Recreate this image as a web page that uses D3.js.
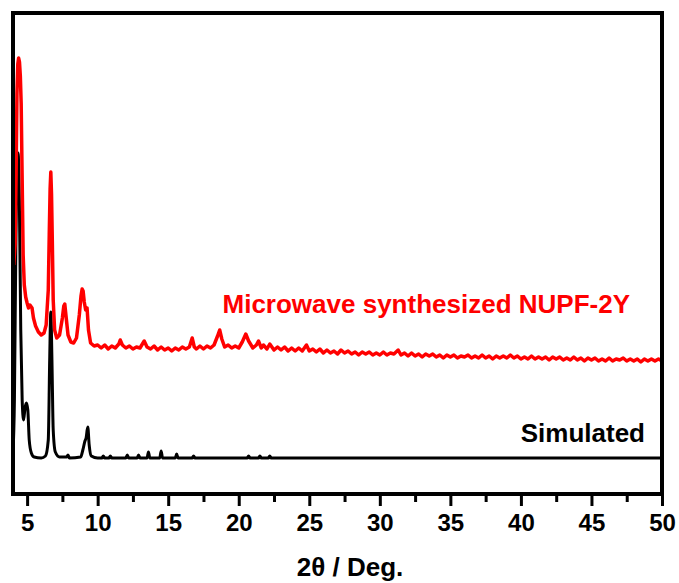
<!DOCTYPE html>
<html>
<head>
<meta charset="utf-8">
<script src="https://cdn.jsdelivr.net/npm/d3@7"></script>
<style>
  body { margin: 0; background: #fff; }
  svg { display: block; }
  text { font-family: "Liberation Sans", Arial, sans-serif; font-weight: bold; }
</style>
</head>
<body>
<svg id="xrd" width="679" height="583"></svg>
<script>
// 2theta (deg) and intensity (a.u.)
let simTheta = [4.0, 4.1, 4.2, 4.3, 4.36, 4.45, 4.55, 4.65, 4.75, 4.85, 4.95, 5.05, 5.15, 5.3, 5.5, 6.0, 6.3, 6.5, 6.6, 6.68, 6.76, 6.85, 7.0, 7.3, 7.8, 7.9, 8.0, 8.8, 8.95, 9.1, 9.18, 9.3, 9.4, 9.55, 10.0, 10.3, 10.4, 10.5, 10.8, 10.9, 11.0, 12.0, 12.1, 12.2, 12.8, 12.9, 13.0, 13.5, 13.6, 13.7, 14.4, 14.5, 14.6, 15.5, 15.6, 15.7, 16.7, 16.8, 16.9, 20.6, 20.7, 20.8, 21.4, 21.5, 21.6, 22.1, 22.2, 22.3, 50.0]
let simInt = [42, 94, 244, 334, 341, 294, 164, 94, 74, 86, 91, 84, 54, 41, 37, 36, 38, 54, 134, 182, 134, 64, 42, 37, 37, 39, 36, 37, 44, 53, 56, 67, 49, 38, 36, 36, 38, 36, 36, 38, 36, 36, 39, 36, 36, 39, 36, 36, 42, 36, 36, 43, 36, 36, 40, 36, 36, 38, 36, 36, 38, 36, 36, 38, 36, 36, 38, 36, 36]

let mwTheta = [4.05, 4.15, 4.22, 4.28, 4.34, 4.4, 4.46, 4.52, 4.58, 4.65, 4.72, 4.8, 4.9, 5.0, 5.1, 5.2, 5.35, 5.45, 5.6, 5.8, 6.0, 6.2, 6.35, 6.5, 6.57, 6.63, 6.68, 6.73, 6.79, 6.85, 6.95, 7.1, 7.3, 7.5, 7.6, 7.67, 7.75, 7.9, 8.1, 8.3, 8.5, 8.7, 8.82, 8.9, 8.97, 9.05, 9.15, 9.25, 9.35,
    9.5, 9.75, 10.0, 10.25, 10.5, 10.75, 11.0, 11.25, 11.5, 11.6, 11.75, 12.0, 12.25, 12.5, 12.75, 13.0, 13.3, 13.5, 13.75, 14.0, 14.25, 14.5, 14.75, 15.0, 15.25, 15.5, 15.75, 16.0, 16.25, 16.5, 16.7, 16.85, 17.0, 17.25, 17.5, 17.75, 18.0, 18.25, 18.5, 18.65, 18.8, 19.0, 19.25, 19.5, 19.75, 20.0, 20.25, 20.5, 20.7, 21.0, 21.25, 21.4, 21.6, 21.75, 22.0, 22.2, 22.5, 22.75, 23.0, 23.25, 23.5, 23.75, 24.0, 24.25, 24.5, 24.8, 25.0, 25.25, 25.5, 25.75, 26.0, 26.25, 26.5, 26.75, 27.0, 27.25, 27.5, 27.75, 28.0, 28.25, 28.5, 28.75, 29.0, 29.25, 29.5, 29.75, 30.0, 30.25, 30.5, 30.75, 31.0, 31.3, 31.5, 31.75, 32.0, 32.25, 32.5, 32.75, 33.0, 33.25, 33.5, 33.75, 34.0, 34.25, 34.5, 34.75, 35.0, 35.25, 35.5, 35.75, 36.0, 36.25, 36.5, 36.75, 37.0, 37.25, 37.5, 37.75, 38.0, 38.25, 38.5, 38.75, 39.0, 39.25, 39.5, 39.75, 40.0, 40.25, 40.5, 40.75, 41.0, 41.25, 41.5, 41.75, 42.0, 42.25, 42.5, 42.75, 43.0, 43.25, 43.5, 43.75, 44.0, 44.25, 44.5, 44.75, 45.0, 45.25, 45.5, 45.75, 46.0, 46.25, 46.5, 46.75, 47.0, 47.25, 47.5, 47.75, 48.0, 48.25, 48.5, 48.75, 49.0, 49.25, 49.5, 49.75, 50.0]
let mwInt = [229, 250, 320, 400, 430, 436, 432, 418, 390, 314, 239, 209, 197, 191, 186, 189, 186, 176, 168, 162, 159, 161, 169, 204, 260, 305, 322, 300, 250, 194, 164, 156, 159, 176, 188, 190, 179, 159, 152, 151, 156, 179, 198, 205, 203, 192, 184, 186, 164,
    151, 148, 149, 146, 149, 145, 148, 146, 150, 154, 149, 146, 148, 145, 147, 146, 153, 147, 145, 148, 144, 147, 144, 146, 143, 146, 144, 147, 145, 147, 156, 147, 145, 148, 145, 148, 146, 149, 158, 164, 155, 147, 149, 146, 148, 146, 152, 160, 153, 146, 149, 153, 146, 149, 145, 150, 144, 147, 144, 147, 143, 146, 143, 146, 143, 149, 143, 145, 142, 145, 141, 144, 141, 143, 140, 144, 141, 143, 140, 142, 139, 142, 140, 142, 139, 141, 139, 142, 139, 141, 140, 144, 139, 141, 138, 141, 138, 140, 137, 140, 138, 140, 137, 139, 136, 139, 137, 139, 136, 138, 137, 139, 136, 138, 136, 139, 136, 138, 135, 138, 136, 138, 136, 139, 136, 138, 135, 137, 135, 138, 135, 137, 135, 137, 134, 137, 135, 137, 134, 136, 134, 137, 134, 136, 133, 136, 134, 136, 133, 135, 133, 136, 133, 135, 134, 136, 133, 135, 133, 135, 132, 135, 133, 135, 133, 135, 133]

let majorTicks = [5, 10, 15, 20, 25, 30, 35, 40, 45, 50]
let minorTicks = [7.5, 12.5, 17.5, 22.5, 27.5, 32.5, 37.5, 42.5, 47.5]
let simLabel = 'Simulated'
let mwLabel = 'Microwave synthesized NUPF-2Y'
let xTitle = '2\u03b8 / Deg.'

function main() {
    let svg = d3.select('#xrd'),
        margin = {top: 13, left: 13, right: 17, bottom: 89},
        width = svg.attr('width') - margin.left - margin.right,
        height = svg.attr('height') - margin.top - margin.bottom

    let xScale = d3.scaleLinear().domain([4, 50]).range([margin.left, margin.left + width]),
        yScale = d3.scaleLinear().domain([0, height]).range([margin.top + height, margin.top])

    let simLine = d3.line()
        .x(d => xScale(d[0]))
        .y(d => yScale(d[1]))
        .curve(d3.curveMonotoneX)

    let mwLine = d3.line()
        .x(d => xScale(d[0]))
        .y(d => yScale(d[1]))

    let sim = simTheta.map((t, i) => [t, simInt[i]])
    let mw = mwTheta.map((t, i) => [t, mwInt[i]])

    svg.append('defs').append('clipPath').attr('id', 'clip')
        .append('rect')
        .attr('x', margin.left).attr('y', margin.top)
        .attr('width', width).attr('height', height)

    let plot = svg.append('g').attr('clip-path', 'url(#clip)')

    plot.append('path')
        .datum(sim)
        .attr('d', simLine)
        .attr('fill', 'none')
        .attr('stroke', '#000')
        .attr('stroke-width', 3)
        .attr('stroke-linejoin', 'round')

    plot.append('path')
        .datum(mw)
        .attr('d', mwLine)
        .attr('fill', 'none')
        .attr('stroke', '#ff0000')
        .attr('stroke-width', 3.5)
        .attr('stroke-linejoin', 'round')

    // ticks
    let bottom = margin.top + height
    svg.append('g')
        .attr('transform', 'translate(0,' + bottom + ')')
        .call(d3.axisBottom(xScale).tickValues(minorTicks).tickSize(8).tickFormat(''))
        .call(g => g.select('.domain').remove())
        .call(g => g.selectAll('line').attr('stroke', '#000').attr('stroke-width', 3))

    let ax = svg.append('g')
        .attr('transform', 'translate(0,' + bottom + ')')
        .call(d3.axisBottom(xScale).tickValues(majorTicks).tickSize(12))
        .call(g => g.select('.domain').remove())
        .call(g => g.selectAll('line').attr('stroke', '#000').attr('stroke-width', 3))
    ax.selectAll('text')
        .attr('y', 20)
        .attr('fill', '#000')
        .attr('font-size', 24)
        .attr('font-family', '"Liberation Sans", Arial, sans-serif')
        .attr('font-weight', 'bold')

    // frame
    svg.append('rect')
        .attr('x', margin.left).attr('y', margin.top)
        .attr('width', width).attr('height', height)
        .attr('fill', 'none')
        .attr('stroke', '#000')
        .attr('stroke-width', 4)

    svg.append('text')
        .attr('x', 630).attr('y', 313)
        .attr('text-anchor', 'end')
        .attr('fill', '#ff0000')
        .attr('font-size', 26)
        .text(mwLabel)

    svg.append('text')
        .attr('x', 645).attr('y', 442)
        .attr('text-anchor', 'end')
        .attr('fill', '#000')
        .attr('font-size', 26)
        .text(simLabel)

    svg.append('text')
        .attr('x', 350).attr('y', 576)
        .attr('text-anchor', 'middle')
        .attr('fill', '#000')
        .attr('font-size', 26)
        .text(xTitle)
}

main()
</script>
</body>
</html>
